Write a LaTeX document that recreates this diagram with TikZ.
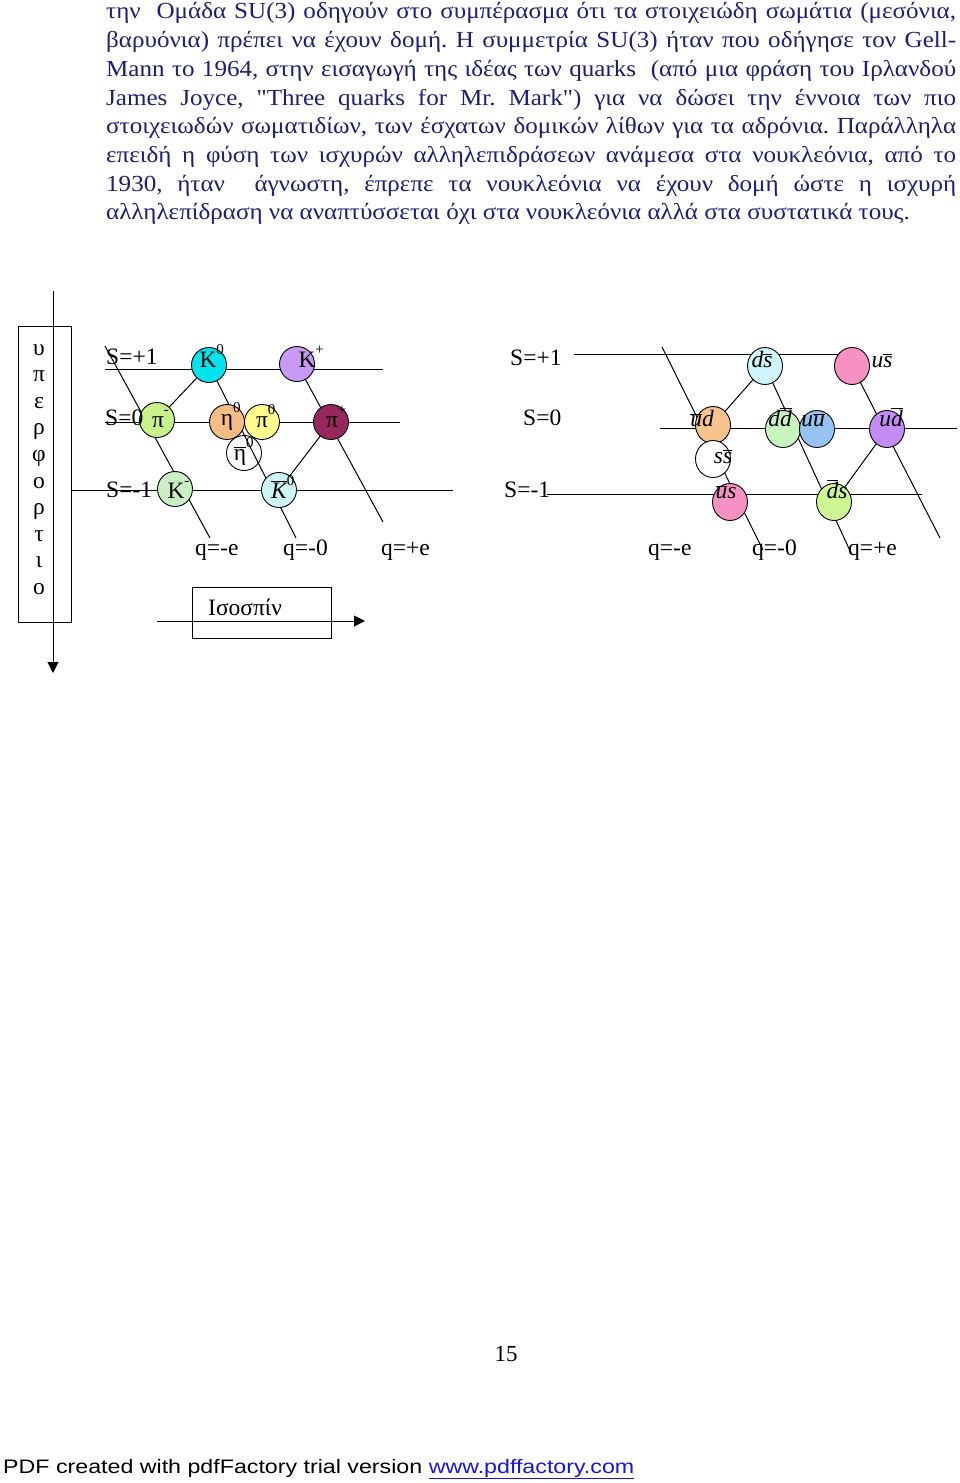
\documentclass[tikz,border=0pt]{standalone}
\usepackage{fontspec}
\setmainfont{Liberation Serif}
\newfontfamily\bodyfont[FakeStretch=1.09]{Liberation Serif}
\newfontfamily\footfont[FakeStretch=1.19]{Liberation Sans}
\usetikzlibrary{arrows.meta,shapes.geometric}
\definecolor{navytext}{RGB}{30,30,120}
\definecolor{linkblue}{RGB}{20,20,230}
\definecolor{cKz}{RGB}{0,228,238}
\definecolor{cKp}{RGB}{200,152,245}
\definecolor{cpim}{RGB}{200,240,140}
\definecolor{ceta}{RGB}{248,188,133}
\definecolor{cpiz}{RGB}{255,250,140}
\definecolor{cpip}{RGB}{150,40,92}
\definecolor{cKm}{RGB}{200,240,195}
\definecolor{cKb}{RGB}{205,245,245}
\definecolor{cds}{RGB}{205,245,250}
\definecolor{cus}{RGB}{248,145,195}
\definecolor{cud}{RGB}{248,195,140}
\definecolor{cdd}{RGB}{200,245,190}
\definecolor{cuu}{RGB}{150,195,245}
\definecolor{cudb}{RGB}{195,140,245}
\definecolor{cdsb}{RGB}{205,245,145}
\newcommand\ovl[1]{\ensuremath{\overline{\hbox{#1}}}}
\newcommand\sups[1]{\raisebox{13pt}{\fontsize{15}{15}\selectfont #1}}
\frenchspacing
\begin{document}
\begin{tikzpicture}[x=1pt,y=-1pt,
  bodyline/.style={anchor=base west,inner sep=0pt,font=\bodyfont\fontsize{23}{28}\selectfont,text=navytext},
  dtext/.style={anchor=base west,inner sep=0pt,font=\fontsize{23.5}{28}\selectfont},
  lab/.style={anchor=base,inner sep=0pt,font=\fontsize{23.5}{28}\selectfont},
  qlab/.style={anchor=base,inner sep=0pt,font=\fontsize{23.5}{28}\selectfont\itshape},
  part/.style={circle,draw,line width=0.9pt,minimum size=35pt,inner sep=0pt},
  qpart/.style={ellipse,draw,line width=0.9pt,minimum width=35pt,minimum height=37pt,inner sep=0pt},
  axis/.style={line width=1pt},
  arr/.style={line width=1pt,-{Triangle[length=11pt,width=11pt]}}]
\fill[white] (0,0) rectangle (960,1483);
\useasboundingbox (0,0) rectangle (960,1483);

% ---------- body text ----------
\node[bodyline] (t1) at (106,19) {\makebox[850pt][s]{την\ \ Ομάδα SU(3) οδηγούν στο συμπέρασμα ότι τα στοιχειώδη σωμάτια (μεσόνια,}};
\node[bodyline] (t2) at (106,47.7) {\makebox[850pt][s]{βαρυόνια) πρέπει να έχουν δομή. Η συμμετρία SU(3) ήταν που οδήγησε τον Gell-}};
\node[bodyline] (t3) at (106,76.4) {\makebox[850pt][s]{Mann το 1964, στην εισαγωγή της ιδέας των quarks\ \ (από μια φράση του Ιρλανδού}};
\node[bodyline] (t4) at (106,105.1) {\makebox[850pt][s]{James Joyce, \char34 Three quarks for Mr. Mark\char34) για να δώσει την έννοια των πιο}};
\node[bodyline] (t5) at (106,133.8) {\makebox[850pt][s]{στοιχειωδών σωματιδίων, των έσχατων δομικών λίθων για τα αδρόνια. Παράλληλα}};
\node[bodyline] (t6) at (106,162.5) {\makebox[850pt][s]{επειδή η φύση των ισχυρών αλληλεπιδράσεων ανάμεσα στα νουκλεόνια, από το}};
\node[bodyline] (t7) at (106,191.2) {\makebox[850pt][s]{1930, ήταν\ \ άγνωστη, έπρεπε τα νουκλεόνια να έχουν δομή ώστε η ισχυρή}};
\node[bodyline] (t8) at (106,219.9) {αλληλεπίδραση να αναπτύσσεται όχι στα νουκλεόνια αλλά στα συστατικά τους.};

% ---------- left: hypercharge box and axes ----------
\coordinate (vtop) at (53,291);
\coordinate (vbot) at (53,673);
\draw[arr] (vtop) -- (vbot);
\node[draw,line width=1pt,minimum width=53pt,minimum height=296pt,inner sep=0pt] (ybox) at (44.5,474) {};
\foreach \c [count=\i] in {υ,π,ε,ρ,φ,ο,ρ,τ,ι,ο}
  \node[lab] (yl\i) at (39,{355+26.6*(\i-1)}) {\c};

% horizontal strangeness lines
\coordinate (La1) at (105,369); \coordinate (La2) at (383,369);
\coordinate (Lb1) at (105,422); \coordinate (Lb2) at (400,422);
\coordinate (Lc1) at (71,490);  \coordinate (Lc2) at (453,490);
\draw[axis] (La1) -- (La2);
\draw[axis] (Lb1) -- (Lb2);
\draw[axis] (Lc1) -- (Lc2);

% particle positions
\coordinate (pK0) at (209,365);
\coordinate (pKp) at (297,364);
\coordinate (ppim) at (157,420);
\coordinate (peta) at (227,422);
\coordinate (ppi0) at (262,422);
\coordinate (ppip) at (331,422);
\coordinate (petb) at (244,453);
\coordinate (pKm) at (175,489);
\coordinate (pKb) at (279,490);

% diagonal lines
\coordinate (dA1) at (105,346); \coordinate (dA2) at (210,538);
\coordinate (dB2) at (296,538);
\coordinate (dC2) at (383,522);
\draw[axis] (dA1) -- (dA2);
\draw[axis] (pK0) -- (dB2);
\draw[axis] (pKp) -- (dC2);
\draw[axis] (pK0) -- (ppim);
\draw[axis] (ppip) -- (pKb);

% circles
\node[part,fill=cKz] (K0) at (pK0) {};
\node[part,fill=cKp] (Kp) at (pKp) {};
\node[part,fill=cpim] (pim) at (ppim) {};
\node[part,fill=ceta] (eta) at (peta) {};
\node[part,fill=cpiz] (pi0) at (ppi0) {};
\node[part,fill=cpip] (pip) at (ppip) {};
\node[part] (etb) at (petb) {};
\node[part,fill=cKm] (Km) at (pKm) {};
\node[part,fill=cKb] (Kb) at (pKb) {};

% labels
\node[dtext] (s1) at (106,364) {S=+1};
\node[dtext] (s0) at (105,425) {S=0};
\node[dtext] (sm) at (106,497) {S=-1};
\node[lab] (lK0) at (208,367) {K\rlap{\sups{0}}};
\node[lab] (lKp) at (307,367) {K\rlap{\sups{+}}};
\node[lab] (lpim) at (158,427) {π\rlap{\sups{-}}};
\node[lab] (leta) at (227,425) {η\rlap{\sups{0}}};
\node[lab] (lpi0) at (262,427) {π\rlap{\sups{0}}};
\node[lab] (lpip) at (332,427) {π\rlap{\sups{+}}};
\node[lab] (letb) at (240,460) {\ovl{η}\rlap{\sups{0}}};
\node[lab] (lKm) at (176,498) {K\rlap{\sups{-}}};
\node[qlab] (lKb) at (279,498) {\ovl{K}\rlap{\upshape\sups{0}}};
\node[dtext] (q1) at (195,555) {q=-e};
\node[dtext] (q2) at (283,555) {q=-0};
\node[dtext] (q3) at (381,555) {q=+e};

% isospin
\node[draw,line width=1pt,minimum width=139pt,minimum height=51pt,inner sep=0pt] (ibox) at (261.5,612.5) {};
\node[dtext] (itext) at (208,615) {Ισοσπίν};
\coordinate (hA) at (157,621);
\coordinate (hB) at (365,621);
\draw[arr] (hA) -- (hB);

% ---------- right: quark content ----------
\coordinate (Ra1) at (574,354); \coordinate (Ra2) at (840,354);
\coordinate (Rb1) at (660,428); \coordinate (Rb2) at (957,428);
\coordinate (Rc1) at (547,494); \coordinate (Rc2) at (922,494);
\draw[axis] (Ra1) -- (Ra2);
\draw[axis] (Rb1) -- (Rb2);
\draw[axis] (Rc1) -- (Rc2);

\coordinate (qds) at (765,366);
\coordinate (qus) at (852,366);
\coordinate (qud) at (713,425);
\coordinate (qdd) at (783,429);
\coordinate (quu) at (817,429);
\coordinate (qudb) at (887,429);
\coordinate (qss) at (713,459);
\coordinate (qubs) at (730,502);
\coordinate (qdbs) at (834,502);

\coordinate (rA1) at (662,347); \coordinate (rA2) at (763,550);
\coordinate (rB2) at (851,553);
\coordinate (rC2) at (940,538);
\draw[axis] (rA1) -- (rA2);
\draw[axis] (qds) -- (rB2);
\draw[axis] (qus) -- (rC2);
\draw[axis] (qds) -- (qud);
\draw[axis] (qudb) -- (qdbs);

\node[qpart,fill=cds] (ds) at (qds) {};
\node[qpart,fill=cus] (us) at (qus) {};
\node[qpart,fill=cud] (ud) at (qud) {};
\node[qpart,fill=cdd] (dd) at (qdd) {};
\node[qpart,fill=cuu] (uu) at (quu) {};
\node[qpart,fill=cudb] (udb) at (qudb) {};
\node[qpart,fill=white] (ss) at (qss) {};
\node[qpart,fill=cus] (ubs) at (qubs) {};
\node[qpart,fill=cdsb] (dbs) at (qdbs) {};

\node[qlab] (lds) at (762,367) {d\ovl{s}};
\node[qlab] (lus) at (882,367) {u\ovl{s}};
\node[qlab] (lud) at (702,426) {\ovl{u}d};
\node[qlab] (ldd) at (780,426) {d\ovl{d}};
\node[qlab] (luu) at (813,426) {u\ovl{u}};
\node[qlab] (ludb) at (891,426) {u\ovl{d}};
\node[qlab] (lss) at (723,463) {s\ovl{s}};
\node[qlab] (lubs) at (726,498) {\ovl{u}s};
\node[qlab] (ldbs) at (837,498) {\ovl{d}s};

\node[dtext] (rs1) at (510,365) {S=+1};
\node[dtext] (rs0) at (523,425) {S=0};
\node[dtext] (rsm) at (504,497) {S=-1};
\node[dtext] (rq1) at (648,555) {q=-e};
\node[dtext] (rq2) at (752,555) {q=-0};
\node[dtext] (rq3) at (848,555) {q=+e};

% ---------- page number and footer ----------
\node[lab,font=\fontsize{23}{28}\selectfont] (pnum) at (506,1361) {15};
\node[anchor=base west,inner sep=0pt,font=\footfont\fontsize{19.5}{22}\selectfont] (foot) at (3,1473)
  {PDF created with pdfFactory trial version \textcolor{linkblue}{\underline{www.pdffactory.com}}};
\end{tikzpicture}
\end{document}
